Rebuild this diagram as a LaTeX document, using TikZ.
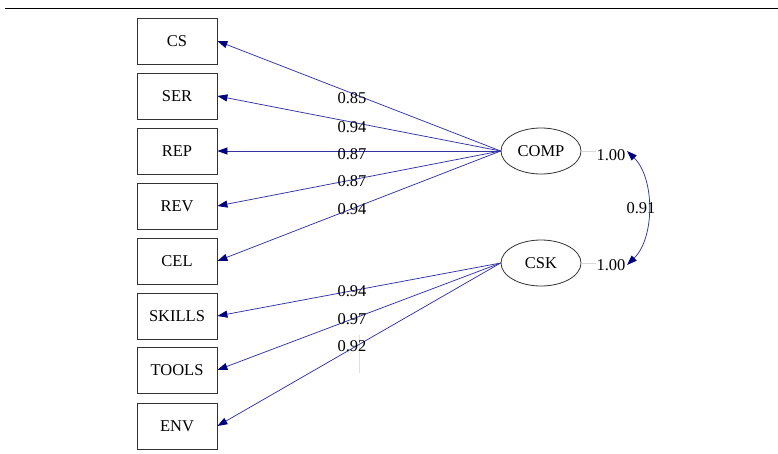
\documentclass[tikz,border=0pt]{standalone}
\usepackage{fontspec}
\setmainfont{Liberation Serif}
\usetikzlibrary{arrows.meta,shapes.geometric}
\definecolor{lcol}{RGB}{50,50,165}
\definecolor{hcol}{RGB}{0,0,128}
\begin{document}
\begin{tikzpicture}[x=1pt,y=-1pt,
  lbl/.style={font=\fontsize{16.5}{18}\selectfont, inner sep=0pt},
  obs/.style={draw=black!80, line width=0.8pt, minimum width=80pt, minimum height=46pt, inner sep=0pt, font=\fontsize{16.5}{18}\selectfont},
  lat/.style={ellipse, draw=black!80, line width=0.8pt, minimum width=80pt, minimum height=46pt, inner sep=0pt, font=\fontsize{16.5}{18}\selectfont},
  load/.style={draw=lcol, line width=0.75pt, -{Triangle[length=10pt,width=7pt,color=hcol]}},
  cov/.style={draw=lcol, line width=0.75pt, {Triangle[length=10pt,width=7pt,color=hcol]}-{Triangle[length=10pt,width=7pt,color=hcol]}},
  var/.style={draw=black!15, line width=1pt}]
\useasboundingbox (0,0) rectangle (778,453);
\coordinate (tl) at (5,8);
\coordinate (tr) at (778,8);
\draw[line width=1pt] (tl) -- (tr);
% observed
\node[obs] (cs) at (177,41) {CS};
\node[obs] (ser) at (177,96) {SER};
\node[obs] (rep) at (177,151) {REP};
\node[obs] (rev) at (177,206) {REV};
\node[obs] (cel) at (177,261) {CEL};
\node[obs] (skills) at (177,316) {SKILLS};
\node[obs] (tools) at (177,370) {TOOLS};
\node[obs] (env) at (177,426) {ENV};
% latent
\node[lat] (comp) at (541,151) {COMP};
\node[lat] (csk) at (541,263) {CSK};
% faint artefact
\coordinate (fa) at (359,335);
\coordinate (fb) at (359,373);
\draw[draw=black!12, line width=1pt] (fa) -- (fb);
% loadings
\foreach \t in {cs,ser,rep,rev,cel} \draw[load] (comp.west) -- (\t.east);
\foreach \t in {skills,tools,env} \draw[load] (csk.west) -- (\t.east);
\node[lbl] (l1) at (352,98) {0.85};
\node[lbl] (l2) at (352,127) {0.94};
\node[lbl] (l3) at (352,154) {0.87};
\node[lbl] (l4) at (352,181) {0.87};
\node[lbl] (l5) at (352,209) {0.94};
\node[lbl] (l6) at (352,291) {0.94};
\node[lbl] (l7) at (352,319) {0.97};
\node[lbl] (l8) at (352,346) {0.92};
% variances
\node[lbl] (v1) at (611,155) {1.00};
\node[lbl] (v2) at (611,265) {1.00};
\draw[var] (comp.east) -- (v1.west |- comp.east);
\draw[var] (csk.east) -- (v2.west |- csk.east);
% covariance
\coordinate (ca) at (627,151);
\coordinate (cb) at (627,265);
\draw[cov] (ca) .. controls (655,178) and (655,238) .. (cb);
\node[lbl] (c1) at (641,208) {0.91};
\end{tikzpicture}
\end{document}
